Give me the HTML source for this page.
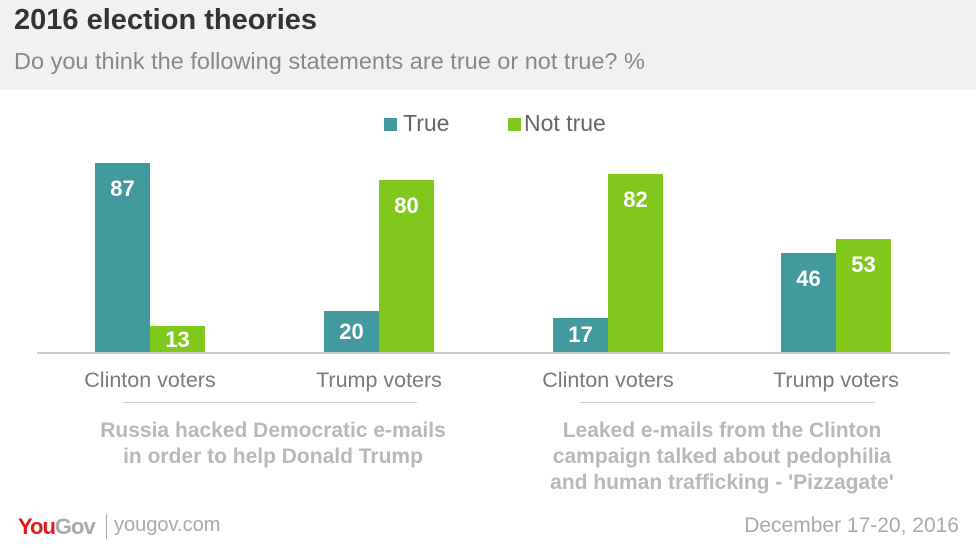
<!DOCTYPE html>
<html><head><meta charset="utf-8"><style>
body{margin:0;width:976px;height:548px;background:#fff;font-family:"Liberation Sans",sans-serif;position:relative;overflow:hidden}
.a{position:absolute}
.bar{position:absolute;width:55px;color:#fff;font-weight:bold;font-size:22px;text-align:center;padding-top:13px;box-sizing:border-box}
.t{background:#429a9e}.n{background:#80c91c}
.lab{position:absolute;width:220px;text-align:center;color:#7a7a7a;font-size:21.5px;top:368px}
.grp{position:absolute;text-align:center;color:#b8b8b8;font-weight:bold;font-size:21px;line-height:26px;top:418px;width:420px}
</style></head><body>
<div class="a" style="left:0;top:0;width:976px;height:90px;background:#f1f1f1"></div>
<div class="a" style="left:14px;top:4px;font-size:29px;font-weight:bold;color:#333">2016 election theories</div>
<div class="a" style="left:14px;top:48px;font-size:23.5px;color:#888">Do you think the following statements are true or not true? %</div>
<div class="a t" style="left:384px;top:118px;width:13px;height:13px"></div>
<div class="a" style="left:403px;top:110px;font-size:23px;color:#666">True</div>
<div class="a n" style="left:508px;top:118px;width:13px;height:13px"></div>
<div class="a" style="left:524px;top:110px;font-size:23px;color:#666">Not true</div>
<div class="bar t" style="left:95px;top:163px;height:190px">87</div>
<div class="bar n" style="left:150px;top:326px;height:27px;padding-top:1px">13</div>
<div class="bar t" style="left:324px;top:311px;height:42px;padding-top:8px">20</div>
<div class="bar n" style="left:379px;top:180px;height:173px">80</div>
<div class="bar t" style="left:553px;top:318px;height:35px;padding-top:4px">17</div>
<div class="bar n" style="left:608px;top:174px;height:179px">82</div>
<div class="bar t" style="left:781px;top:253px;height:100px">46</div>
<div class="bar n" style="left:836px;top:239px;height:114px">53</div>
<div class="a" style="left:37px;top:352px;width:913px;height:2px;background:#ccc"></div>
<div class="lab" style="left:40px">Clinton voters</div>
<div class="lab" style="left:269px">Trump voters</div>
<div class="lab" style="left:498px">Clinton voters</div>
<div class="lab" style="left:726px">Trump voters</div>
<div class="a" style="left:123px;top:402px;width:294px;height:1px;background:#ccc"></div>
<div class="a" style="left:580px;top:402px;width:295px;height:1px;background:#ccc"></div>
<div class="grp" style="left:63px">Russia hacked Democratic e-mails<br>in order to help Donald Trump</div>
<div class="grp" style="left:512px">Leaked e-mails from the Clinton<br>campaign talked about pedophilia<br>and human trafficking - 'Pizzagate'</div>
<div class="a" style="left:18px;top:514px;font-size:22px;font-weight:bold;letter-spacing:-1px"><span style="color:#e3191b">You</span><span style="color:#aaa">Gov</span></div>
<div class="a" style="left:106px;top:514px;width:1px;height:25px;background:#aaa"></div>
<div class="a" style="left:114px;top:514px;font-size:20px;color:#aaa">yougov.com</div>
<div class="a" style="right:17px;top:514px;font-size:21px;color:#aaa">December 17-20, 2016</div>
</body></html>
